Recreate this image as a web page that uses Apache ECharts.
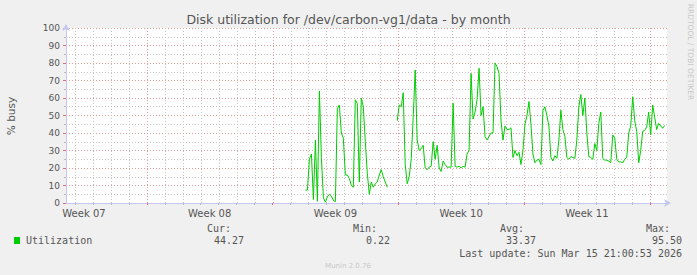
<!DOCTYPE html>
<html><head><meta charset="utf-8">
<script src="https://cdn.jsdelivr.net/npm/echarts@6/dist/echarts.min.js"></script>
<style>html,body{margin:0;padding:0;background:#f0f0f0;}#c{width:697px;height:275px;}</style>
</head><body><div id="c"></div>
<script>
// ---- data ----
const TITLE = 'Disk utilization for /dev/carbon-vg1/data - by month';
const Y_NAME = '% busy';
const WEEK_LABELS = ['Week 07', 'Week 08', 'Week 09', 'Week 10', 'Week 11'];
const WEEK_CENTERS = [1, 8, 15, 22, 29];          // days since graph start
const WEEK_STARTS = [4.5, 11.5, 18.5, 25.5, 32.5]; // days since graph start
const SPAN_DAYS = 33.46;
const SAMPLE_START = 13.33;   // day of first sample
const SAMPLE_STEP = 1 / 9;    // days between samples
const utilization = [
  7.4, 7.4, 25, 28, 2, 36, 1, 64, 26, 3, 0.5, 3.5, 5, 4, 1.5, 0.8, 54, 56, 40, 37,
  16, 16, 14, 10, 9, 59, 57, 12, 60, 55, 35, 17, 5, 12, 9, 11, 12, 16, 19, 15,
  12, 9, null, null, null, null,
  47, 56, 55, 63, 22, 11, 15, 25, 49, 76, 36, 30, 31, 33, 20, 19, 20.5, 21, 35, 25,
  33, 20, 18, 24, 22, 20.5, 20.5, 20.5, 57, 21, 20.5, 21, 20, 21, 20.5, 28, 30, 74, 48, 52,
  59, 77, 50, 55, 38, 36, 38, 40, 40, 80, 78, 74, 47, 36, 44, 42, 42, 43, 26, 30,
  27, 29, 22, 30, 45, 50, 58, 45, 28, 23, 24.5, 25, 22, 53, 55, 50, 44, 26, 24, 27,
  25.5, 36, 53, 42, 38, 26, 25, 26.5, 26, 25.5, 36, 55, 62, 50, 60, 40, 26.5, 26, 25, 34,
  30, 45.5, 52, 25.5, 24.5, 24.5, 24, 23, 38.9, 37, 25, 23.5, 23.5, 23, 25, 26, 40, 44, 60.7, 47,
  41, 23, 30, 41, 41.5, 43.5, 52, 39, 56, 49, 42, 45.5, 44, 42.7, 44.27
];
const SERIES_NAME = 'Utilization';
const STAT_HEADS = ['Cur:', 'Min:', 'Avg:', 'Max:'];
const STAT_VALUES = ['44.27', '0.22', '33.37', '95.50'];
const LAST_UPDATE = 'Last update: Sun Mar 15 21:00:53 2026';
const FOOTER = 'Munin 2.0.76';
const VENDOR = 'RRDTOOL / TOBI OETIKER';

// ---- build ----
const dayBounds = [];
for (let d = 0.5; d < SPAN_DAYS; d += 1) dayBounds.push(d);
const minorBounds = dayBounds.filter(d => WEEK_STARTS.indexOf(d) < 0);
const lineData = utilization.map((v, i) => [SAMPLE_START + i * SAMPLE_STEP, v]);

const TXT = '#555555';
const AXIS = '#c4c8f0';
const MAJ = '#e39c9c';
const MIN = '#c4c4c4';
const SANS = 'DejaVu Sans';

function vGrid(color) {
  return function (params, api) {
    const x = Math.round(api.coord([api.value(0), 0])[0]) + 0.5;
    const yTop = api.coord([0, 100])[1];
    const yBot = api.coord([0, 0])[1];
    return {type: 'line', shape: {x1: x, y1: yTop, x2: x, y2: yBot},
      style: {stroke: color, lineWidth: 1, lineDash: [1, 2], fill: null}, silent: true};
  };
}

const headRight = [231, 377, 524, 670];
const valRight = [244, 390, 536, 682];
const graphics = [
  {type: 'text', x: 11, y: 116, rotation: Math.PI / 2,
   style: {text: Y_NAME, align: 'center', verticalAlign: 'middle', fill: TXT, font: '10.5px "DejaVu Sans"'}},
  {type: 'text', x: 690, y: 52, rotation: -Math.PI / 2,
   style: {text: VENDOR, align: 'center', verticalAlign: 'middle', fill: '#c8c8c8', font: '7.5px "DejaVu Sans"'}},
  {type: 'rect', shape: {x: 14, y: 237, width: 6, height: 7}, style: {fill: '#00cc00'}},
  {type: 'text', x: 26, y: 240,
   style: {text: SERIES_NAME, align: 'left', verticalAlign: 'middle', fill: TXT, font: '10px "DejaVu Sans Mono"'}},
  {type: 'text', x: 682, y: 253,
   style: {text: LAST_UPDATE, align: 'right', verticalAlign: 'middle', fill: TXT, font: '10px "DejaVu Sans Mono"'}},
  {type: 'text', x: 348, y: 266,
   style: {text: FOOTER, align: 'center', verticalAlign: 'middle', fill: '#c8c8c8', font: '7px "DejaVu Sans"'}}
];
STAT_HEADS.forEach((t, i) => graphics.push({type: 'text', x: headRight[i], y: 228,
  style: {text: t, align: 'right', verticalAlign: 'middle', fill: TXT, font: '10px "DejaVu Sans Mono"'}}));
STAT_VALUES.forEach((t, i) => graphics.push({type: 'text', x: valRight[i], y: 240,
  style: {text: t, align: 'right', verticalAlign: 'middle', fill: TXT, font: '10px "DejaVu Sans Mono"'}}));

const chart = echarts.init(document.getElementById('c'), null, {renderer: 'svg'});
chart.setOption({
  animation: false,
  backgroundColor: '#f0f0f0',
  title: {text: TITLE, left: 'center', top: 8,
    textStyle: {fontFamily: SANS, fontSize: 12.5, fontWeight: 'normal', color: TXT}},
  grid: {left: 66, right: 30, top: 28, bottom: 72, show: true, backgroundColor: '#ffffff', borderWidth: 0},
  xAxis: [
    {type: 'value', min: 0, max: SPAN_DAYS, position: 'bottom',
     axisLine: {show: true, lineStyle: {color: AXIS}, symbol: ['none', 'arrow'], symbolSize: [6, 7], symbolOffset: [0, 4]},
     axisTick: {show: true, customValues: dayBounds, length: 2, lineStyle: {color: '#bbbbbb'}},
     splitLine: {show: false},
     axisLabel: {show: false}},
    {type: 'value', min: 0, max: SPAN_DAYS, position: 'bottom',
     axisLine: {show: false},
     axisTick: {show: true, customValues: WEEK_STARTS, length: 2, lineStyle: {color: '#e07070'}},
     splitLine: {show: false},
     axisLabel: {show: true, customValues: WEEK_CENTERS, margin: 5, color: TXT, fontSize: 10, fontFamily: SANS,
       formatter: v => WEEK_LABELS[WEEK_CENTERS.indexOf(v)] || ''}}
  ],
  yAxis: {type: 'value', min: 0, max: 100, interval: 10,
    axisLine: {show: true, lineStyle: {color: AXIS}, symbol: ['none', 'arrow'], symbolSize: [6, 7], symbolOffset: [0, 4]},
    axisTick: {show: true, length: 3, lineStyle: {color: '#e07070'}},
    minorTick: {show: true, splitNumber: 2, length: 2, lineStyle: {color: '#bbbbbb'}},
    splitLine: {show: true, lineStyle: {color: MAJ, type: [1, 2]}},
    minorSplitLine: {show: true, lineStyle: {color: MIN, type: [1, 2]}},
    axisLabel: {color: TXT, fontSize: 9, fontFamily: SANS, margin: 6}},
  series: [
    {type: 'custom', xAxisIndex: 0, yAxisIndex: 0, z: 1, silent: true,
     data: minorBounds.map(d => [d, 0]), renderItem: vGrid(MIN)},
    {type: 'custom', xAxisIndex: 0, yAxisIndex: 0, z: 1, silent: true,
     data: WEEK_STARTS.map(d => [d, 0]), renderItem: vGrid(MAJ)},
    {name: SERIES_NAME, type: 'line', xAxisIndex: 0, yAxisIndex: 0, z: 3,
     data: lineData, showSymbol: false, connectNulls: false,
     lineStyle: {color: '#00cc00', width: 1}, itemStyle: {color: '#00cc00'}}
  ],
  graphic: graphics
});
</script>
</body></html>
